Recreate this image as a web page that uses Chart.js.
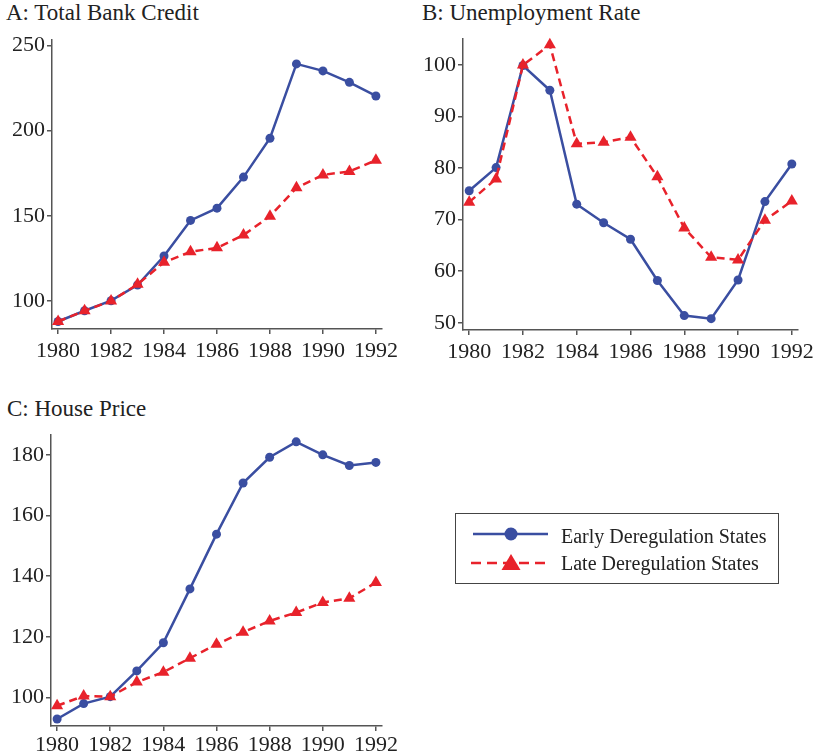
<!DOCTYPE html>
<html>
<head>
<meta charset="utf-8">
<script src="https://cdn.jsdelivr.net/npm/chart.js@4.4.0/dist/chart.umd.min.js"></script>
<style>
    body { margin: 0; background: #fff; width: 819px; height: 756px; position: relative; overflow: hidden; font-family: "Liberation Serif", serif; color: #222; }
    canvas { position: absolute; }
    .ttl { position: absolute; font-size: 23px; line-height: 23px; white-space: nowrap; }
    .leg { position: absolute; font-size: 20px; line-height: 20px; white-space: nowrap; }
    #legendBox { position: absolute; left: 455px; top: 513px; width: 322px; height: 69px; border: 1.5px solid #444; }
</style>
</head>
<body>

<div class="ttl" style="left:6px; top:1px;">A: Total Bank Credit</div>
<div class="ttl" style="left:422px; top:1px;">B: Unemployment Rate</div>
<div class="ttl" style="left:7px; top:397px;">C: House Price</div>

<canvas id="creditChart" width="405" height="348" style="left:0px; top:25px;"></canvas>
<canvas id="unempChart" width="409" height="349" style="left:410px; top:24px;"></canvas>
<canvas id="houseChart" width="405" height="336" style="left:0px; top:420px;"></canvas>

<div id="legendBox"></div>
<svg width="819" height="756" style="position:absolute; left:0; top:0;">
    <line x1="473" y1="534" x2="548" y2="534" stroke="#3a4ea1" stroke-width="2.5"/>
    <circle cx="511" cy="534" r="6.5" fill="#3a4ea1"/>
    <line x1="471" y1="563" x2="547" y2="563" stroke="#e8222b" stroke-width="2.5" stroke-dasharray="10,6"/>
    <polygon points="511,554 520.5,570 501.5,570" fill="#e8222b"/>
</svg>
<div class="leg" id="leg0" style="left:561px; top:526px;"></div>
<div class="leg" id="leg1" style="left:561px; top:553px;"></div>

<script>
// Data
let years = [1980, 1981, 1982, 1983, 1984, 1985, 1986, 1987, 1988, 1989, 1990, 1991, 1992];
let xTicks = [1980, 1982, 1984, 1986, 1988, 1990, 1992];
let legendLabels = ["Early Deregulation States", "Late Deregulation States"];

let creditEarly = [88, 94.3, 100.2, 109.4, 126.4, 147.3, 154.5, 172.7, 195.5, 239.1, 235, 228.3, 220.3];
let creditLate = [88, 94.3, 100, 109.8, 122.7, 128.9, 131.2, 138.7, 149.8, 166.4, 174, 176, 182.6];
let creditTicks = [100, 150, 200, 250];

let unempEarly = [75.6, 80.1, 99.9, 95.1, 73, 69.4, 66.2, 58.2, 51.4, 50.8, 58.3, 73.5, 80.8];
let unempLate = [73.4, 77.9, 100, 103.9, 84.7, 85, 86, 78.3, 68.4, 62.7, 62.2, 69.9, 73.6];
let unempTicks = [50, 60, 70, 80, 90, 100];

let houseEarly = [92.8, 97.9, 100.2, 108.7, 118, 135.8, 153.9, 170.8, 179.3, 184.4, 180.1, 176.6, 177.6];
let houseLate = [97.2, 100.4, 100.2, 105, 108.3, 112.9, 117.5, 121.5, 125.2, 128, 131.3, 132.7, 137.9];
let houseTicks = [100, 120, 140, 160, 180];

// Styles
let blue = "#3a4ea1";
let red = "#e8222b";
let axisColor = "#555";
let fontFamily = "'Liberation Serif', serif";

document.getElementById("leg0").textContent = legendLabels[0];
document.getElementById("leg1").textContent = legendLabels[1];

function toPoints(values) {
    return years.map((yr, i) => ({ x: yr, y: values[i] }));
}

function makePanel(id, early, late, yTicks, yMin, yMax, s) {
    let ctx = document.getElementById(id).getContext("2d");
    return new Chart(ctx, {
        type: "line",
        data: {
            datasets: [
                {
                    label: legendLabels[1],
                    data: toPoints(late),
                    borderColor: red,
                    backgroundColor: red,
                    borderWidth: 2.5,
                    borderDash: [8, 5],
                    pointStyle: "triangle",
                    pointRadius: 7,
                    pointBorderWidth: 0,
                    pointBackgroundColor: red,
                    tension: 0,
                    clip: false,
                    order: 0,
                },
                {
                    label: legendLabels[0],
                    data: toPoints(early),
                    borderColor: blue,
                    backgroundColor: blue,
                    borderWidth: 2.5,
                    pointStyle: "circle",
                    pointRadius: 4.5,
                    pointBorderWidth: 0,
                    pointBackgroundColor: blue,
                    tension: 0,
                    clip: false,
                    order: 1,
                },
            ],
        },
        options: {
            responsive: false,
            animation: false,
            events: [],
            layout: { padding: { top: 0, right: s.padRight, left: 0, bottom: 0 } },
            plugins: { legend: { display: false }, tooltip: { enabled: false } },
            scales: {
                x: {
                    type: "linear",
                    min: 1979.77,
                    max: 1992.23,
                    afterBuildTicks: (axis) => { axis.ticks = xTicks.map((v) => ({ value: v })); },
                    afterFit: (axis) => { axis.height = s.xHeight; },
                    border: { color: axisColor, width: 1.5 },
                    grid: { drawOnChartArea: false, color: axisColor, lineWidth: 1.5, tickLength: 5 },
                    ticks: {
                        font: { family: fontFamily, size: 22 },
                        color: "#222",
                        padding: s.xPad,
                        maxRotation: 0,
                        autoSkip: false,
                        callback: (v) => String(v),
                    },
                },
                y: {
                    type: "linear",
                    min: yMin,
                    max: yMax,
                    afterBuildTicks: (axis) => { axis.ticks = yTicks.map((v) => ({ value: v })); },
                    afterFit: (axis) => { axis.width = s.yWidth; },
                    border: { color: axisColor, width: 1.5 },
                    grid: { drawOnChartArea: false, color: axisColor, lineWidth: 1.5, tickLength: 5 },
                    ticks: {
                        font: { family: fontFamily, size: 22 },
                        color: "#222",
                        padding: 2,
                        callback: (v) => String(v),
                    },
                },
            },
        },
    });
}

makePanel("creditChart", creditEarly, creditLate, creditTicks, 83.6, 253, { yWidth: 52, xHeight: 44, padRight: 23, xPad: 4 });
makePanel("unempChart", unempEarly, unempLate, unempTicks, 48.6, 105, { yWidth: 53, xHeight: 43, padRight: 21, xPad: 4 });
makePanel("houseChart", houseEarly, houseLate, houseTicks, 90.5, 186.6, { yWidth: 51, xHeight: 30, padRight: 23, xPad: 1 });
</script>
</body>
</html>
